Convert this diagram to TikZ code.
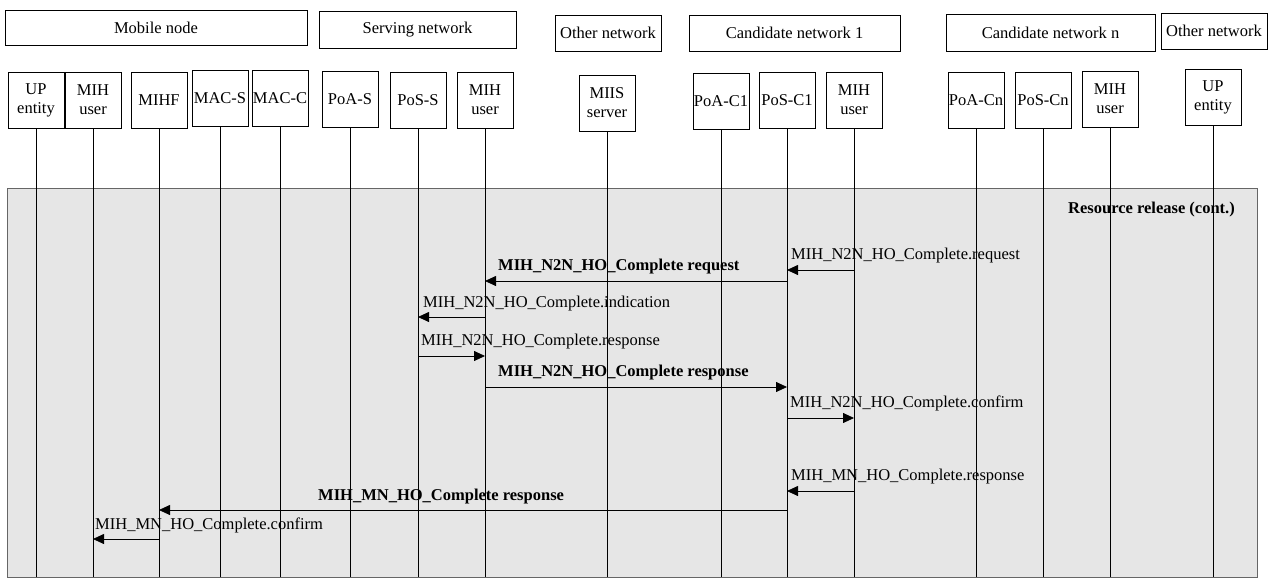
\documentclass[tikz,border=0pt]{standalone}
\usepackage{fontspec}
\setmainfont{Liberation Serif}
\usetikzlibrary{arrows.meta,positioning,calc}
\definecolor{lanegray}{RGB}{230,230,230}

\begin{document}
\begin{tikzpicture}[x=1pt, y=-1pt,
    every node/.style={font=\fontsize{16.5}{19}\selectfont},
    group/.style={draw, thick, rectangle, inner sep=0pt},
    entity/.style={draw, thick, rectangle, minimum width=56, minimum height=56, align=center, inner sep=0.5pt},
    life/.style={line width=0.8pt},
    msg/.style={line width=0.8pt, -{Triangle[length=11pt,width=10pt]}},
    lbl/.style={anchor=base west, inner sep=0pt},
    blbl/.style={lbl, font=\fontsize{16.5}{19}\selectfont\bfseries}]
    \useasboundingbox (0,0) rectangle (1278,579);

    % Message area
    \node[fill=lanegray, draw=black!60, line width=0.8pt, minimum width=1250, minimum height=389, inner sep=0pt] (lane) at (632,382.5) {};
    \node[blbl] (rr) at (1068,213) {Resource release (cont.)};

    % Groups
    \node[group, minimum width=302, minimum height=35] (mn) at (156,27.5) {Mobile node};
    \node[group, minimum width=197, minimum height=37] (sn) at (417.5,29.5) {Serving network};
    \node[group, minimum width=106, minimum height=36] (on1) at (608,33) {Other network};
    \node[group, minimum width=211, minimum height=36] (cn1) at (794.5,33) {Candidate network 1};
    \node[group, minimum width=209, minimum height=37] (cnn) at (1050.5,32.5) {Candidate network n};
    \node[group, minimum width=106, minimum height=36] (on2) at (1214,31) {Other network};

    % Entities
    \node[entity] (mnup) at (36,100) {UP\\entity};
    \node[entity] (mnuser) at (93,100) {MIH\\user};
    \node[entity] (mihf) at (159,100) {MIHF};
    \node[entity] (macs) at (220,98) {MAC-S};
    \node[entity] (macc) at (280,98) {MAC-C};
    \node[entity] (poas) at (350,99) {PoA-S};
    \node[entity] (poss) at (418,100) {PoS-S};
    \node[entity] (snuser) at (485,100) {MIH\\user};
    \node[entity] (miis) at (607,103) {MIIS\\server};
    \node[entity] (poac1) at (721,101) {PoA-C1};
    \node[entity] (posc1) at (787,100) {PoS-C1};
    \node[entity] (c1user) at (854,100) {MIH\\user};
    \node[entity] (poacn) at (976,100) {PoA-Cn};
    \node[entity] (poscn) at (1043,100) {PoS-Cn};
    \node[entity] (cnuser) at (1110,99) {MIH\\user};
    \node[entity] (cnup) at (1213,97) {UP\\entity};

    % Lifelines
    \foreach \e in {mnup,mnuser,mihf,macs,macc,poas,poss,snuser,miis,poac1,posc1,c1user,poacn,poscn,cnuser,cnup}
        \draw[life] (\e) -- (\e |- lane.south);

    % Messages
    \draw[msg] (c1user |- 0,270) -- (posc1 |- 0,270);
    \node[lbl] (m1) at (791,259) {MIH\_N2N\_HO\_Complete.request};
    \draw[msg] (posc1 |- 0,281) -- (snuser |- 0,281);
    \node[blbl] (m2) at (498,270) {MIH\_N2N\_HO\_Complete request};
    \draw[msg] (snuser |- 0,317) -- (poss |- 0,317);
    \node[lbl] (m3) at (423,307) {MIH\_N2N\_HO\_Complete.indication};
    \draw[msg] (poss |- 0,356) -- (snuser |- 0,356);
    \node[lbl] (m4) at (421,345) {MIH\_N2N\_HO\_Complete.response};
    \draw[msg] (snuser |- 0,387) -- (posc1 |- 0,387);
    \node[blbl] (m5) at (498,376) {MIH\_N2N\_HO\_Complete response};
    \draw[msg] (posc1 |- 0,418) -- (c1user |- 0,418);
    \node[lbl] (m6) at (790,407) {MIH\_N2N\_HO\_Complete.confirm};
    \draw[msg] (c1user |- 0,491) -- (posc1 |- 0,491);
    \node[lbl] (m7) at (791,480) {MIH\_MN\_HO\_Complete.response};
    \draw[msg] (posc1 |- 0,510) -- (mihf |- 0,510);
    \node[blbl] (m8) at (318,500) {MIH\_MN\_HO\_Complete response};
    \draw[msg] (mihf |- 0,539) -- (mnuser |- 0,539);
    \node[lbl] (m9) at (95,529) {MIH\_MN\_HO\_Complete.confirm};

\end{tikzpicture}
\end{document}
